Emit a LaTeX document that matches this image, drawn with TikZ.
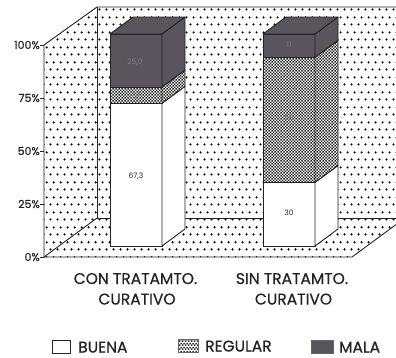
\documentclass[tikz,border=0pt]{standalone}
\usepackage{fontspec}
\setmainfont{Poppins}
\newfontfamily\labelfont{Poppins}[FakeBold=0.5]
\usetikzlibrary{patterns.meta}
\definecolor{malagray}{RGB}{88,85,92}
\definecolor{inkgray}{RGB}{35,35,35}
\tikzdeclarepattern{name=sdots, type=uncolored,
  bounding box={(0pt,0pt) and (7pt,15pt)}, tile size={(7pt,15pt)},
  code={\fill (1.75pt,3.75pt) circle (1.3pt); \fill (5.25pt,11.25pt) circle (1.3pt);}}
\tikzdeclarepattern{name=checker, type=uncolored,
  bounding box={(0pt,0pt) and (3.4pt,3.4pt)}, tile size={(3.4pt,3.4pt)},
  code={\fill (0pt,0pt) rectangle (1.7pt,1.7pt); \fill (1.7pt,1.7pt) rectangle (3.4pt,3.4pt);}}
\newcommand\barseg[4]{%
  \path[#4, edge] (#1,#2) rectangle ({#1+52},#3);
  \path[#4, edge] ({#1+52},#2) -- ({#1+75},{#2-17}) -- ({#1+75},{#3-17}) -- ({#1+52},#3) -- cycle;}
\newcommand\bartop[1]{%
  \path[mala, edge] (#1,34) -- ({#1+23},17) -- ({#1+75},17) -- ({#1+52},34) -- cycle;}
\begin{document}
\begin{tikzpicture}[x=1pt,y=-1pt, line join=round,
  edge/.style={draw=inkgray, line width=0.9pt},
  wall/.style={pattern=sdots, pattern color=black},
  buena/.style={fill=white},
  regular/.style={preaction={fill=white}, pattern=checker, pattern color=black!85},
  mala/.style={fill=malagray},
  axlbl/.style={font=\labelfont\fontsize{11}{11}\selectfont, text=inkgray, inner sep=0pt, anchor=east},
  catlbl/.style={font=\labelfont\fontsize{15.5}{15.5}\selectfont, text=inkgray, inner sep=0pt, anchor=base},
  leglbl/.style={font=\labelfont\fontsize{15.5}{15.5}\selectfont, text=inkgray, inner sep=0pt, anchor=base west},
  numlbl/.style={font=\fontsize{7.5}{7.5}\selectfont, inner sep=0pt}]
\useasboundingbox (0,0) rectangle (396,357);
\fill[white] (0,0) rectangle (396,357);
\begin{scope}
  \clip (0,0) rectangle (396,357);
  \path[wall] (97,7) rectangle (410,218);
  \path[wall] (44,45) -- (97,7) -- (97,218) -- (44,257) -- cycle;
  \path[wall] (44,257) -- (352,257) -- (405,218) -- (97,218) -- cycle;
  \draw[edge] (44,45) -- (97,7) -- (410,7);
  \draw[edge] (97,7) -- (97,218) -- (410,218);
  \draw[edge] (44,45) -- (44,257) -- (352,257) -- (405,218);
  \draw[edge] (44,257) -- (97,218);
\end{scope}
% axis ticks and labels
\foreach \v/\y in {100/45, 75/98, 50/151, 25/204, 0/257}{
  \draw[edge] (40,\y) -- (44,\y);
  \node[axlbl] (ax\v) at (40,\y) {\v\%};
}
% bar 1
\barseg{110}{246}{103.3}{buena}
\barseg{110}{103.3}{87}{regular}
\barseg{110}{87}{34}{mala}
\bartop{110}
% bar 2
\barseg{263}{246}{182.4}{buena}
\barseg{263}{182.4}{57.3}{regular}
\barseg{263}{57.3}{34}{mala}
\bartop{263}
% value labels
\node[numlbl, text=inkgray] (v1b) at (136,176) {67,3};
\node[numlbl, text=black!55] (v1r) at (136,95) {7,7};
\node[numlbl, text=black!50] (v1m) at (135,62) {25,0};
\node[numlbl, text=inkgray] (v2b) at (289,213) {30};
\node[numlbl, text=black!55] (v2r) at (289,118) {59};
\node[numlbl, text=black!50] (v2m) at (289,45) {11};
% category labels
\node[catlbl] (c1a) at (135.5,284) {CON TRATAMTO.};
\node[catlbl] (c1b) at (137,304.5) {CURATIVO};
\node[catlbl] (c2a) at (292,284) {SIN TRATAMTO.};
\node[catlbl] (c2b) at (293.5,304.5) {CURATIVO};
% legend
\path[buena, edge] (52,340.5) rectangle (70,353.5);
\node[leglbl] (lb) at (78,352.5) {BUENA};
\path[regular, draw=black!60, line width=0.5pt] (178,339) rectangle (198,352);
\node[leglbl] (lr) at (205,351.5) {REGULAR};
\path[mala, draw=black!60, line width=0.5pt] (311,340.5) rectangle (333,353.5);
\node[leglbl] (lm) at (339,352.5) {MALA};
\end{tikzpicture}
\end{document}
